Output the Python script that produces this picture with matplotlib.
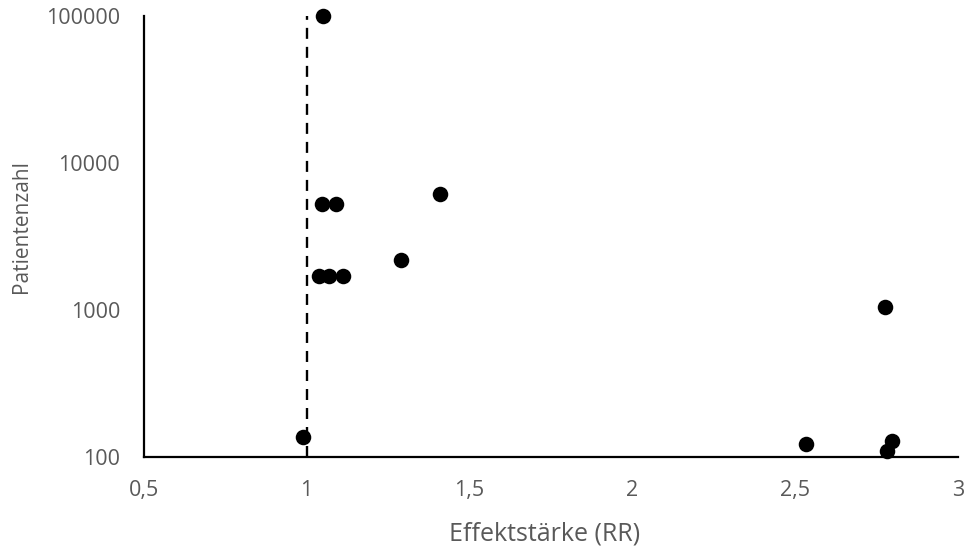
import matplotlib
matplotlib.use("Agg")
import matplotlib.pyplot as plt
from matplotlib.ticker import FixedLocator, NullLocator, FuncFormatter

effect_rr = [1.050, 1.048, 1.090, 1.409, 1.291, 1.039, 1.070, 1.111, 0.990, 2.532, 2.774, 2.795, 2.782]
patients = [100000, 5250, 5250, 6200, 2200, 1700, 1700, 1700, 138, 124, 1058, 129, 111]
x_ticks = [0.5, 1, 1.5, 2, 2.5, 3]
y_ticks = [100, 1000, 10000, 100000]
ref_line = 1

plt.rcParams['font.family'] = ['Open Sans', 'DejaVu Sans']
gray = '#595959'

fig = plt.figure(figsize=(9.7, 5.49), dpi=100)
ax = fig.add_axes([0.148, 0.1667, 0.840, 0.8043])

ax.axvline(ref_line, color='black', lw=1.7, linestyle=(0, (4.65, 3.4)), zorder=1)
ax.scatter(effect_rr, patients, s=125, color='black', zorder=3, clip_on=False, linewidths=0)

ax.set_yscale('log')
ax.set_xlim(0.5, 3)
ax.set_ylim(100, 100000)
ax.yaxis.set_major_locator(FixedLocator(y_ticks))
ax.yaxis.set_minor_locator(NullLocator())
ax.yaxis.set_major_formatter(FuncFormatter(lambda v, p: f"{int(round(v))}"))
ax.xaxis.set_major_locator(FixedLocator(x_ticks))
ax.xaxis.set_major_formatter(FuncFormatter(lambda v, p: (f"{v:g}").replace('.', ',')))

for s in ['top', 'right']:
    ax.spines[s].set_visible(False)
for s in ['left', 'bottom']:
    ax.spines[s].set_linewidth(1.6)
    ax.spines[s].set_color('black')

ax.tick_params(axis='both', length=0, labelsize=15.5, labelcolor=gray)
ax.tick_params(axis='x', pad=16)
ax.tick_params(axis='y', pad=17)

ax.set_xlabel('Effektstärke (RR)', fontsize=18, color=gray)
ax.xaxis.set_label_coords(0.4926, -0.145)
ax.set_ylabel('Patientenzahl', fontsize=15, color=gray)
ax.yaxis.set_label_coords(-0.137, 0.524)

fig.savefig('out.png', dpi=100, facecolor='white')
